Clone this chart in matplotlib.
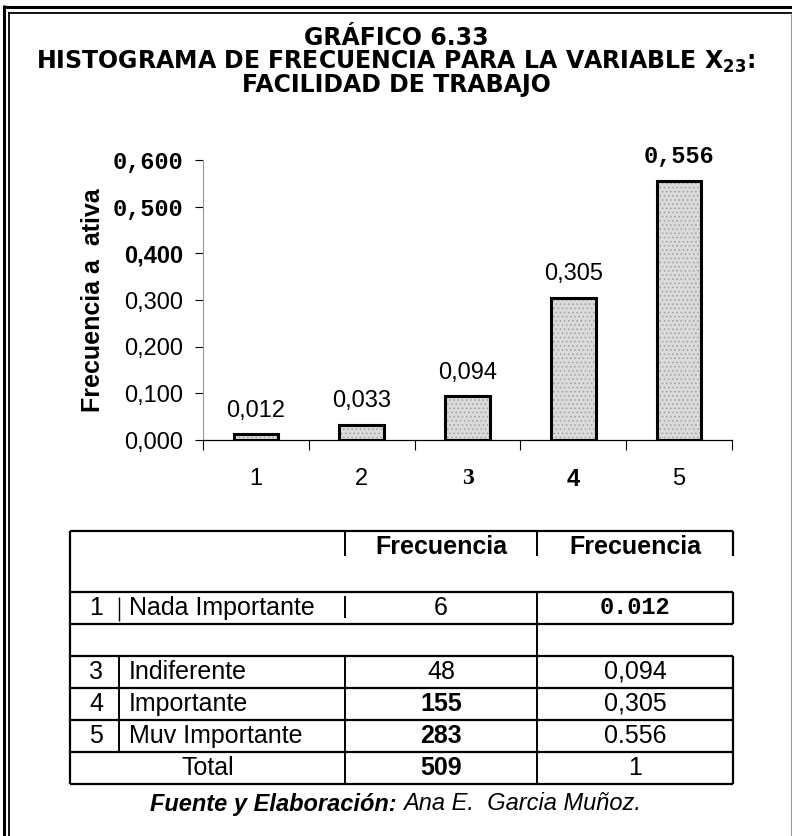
import matplotlib.pyplot as plt
import numpy as np

# frecuencias relativas de la variable X23
categorias = ["1", "2", "3", "4", "5"]
frec_relativa = [0.012, 0.033, 0.094, 0.305, 0.556]
etiquetas_valor = ["0,012", "0,033", "0,094", "0,305", "0,556"]
ticks_y = [0.0, 0.1, 0.2, 0.3, 0.4, 0.5, 0.6]
etiquetas_y = ["0,000", "0,100", "0,200", "0,300", "0,400", "0,500", "0,600"]

# tabla de frecuencias (la segunda fila quedó en blanco)
tabla_codigo = ["1", "", "3", "4", "5"]
tabla_nombre = ["Nada Importante", "", "Indiferente", "Importante", "Muv Importante"]
tabla_frec = ["6", "", "48", "155", "283"]
tabla_rel = ["0.012", "", "0,094", "0,305", "0.556"]
total_frec = "509"
total_rel = "1"

SANS = "Liberation Sans"
MONO = "Liberation Mono"
SERIF = "Liberation Serif"

W, H = 792, 836
fig = plt.figure(figsize=(W / 100, H / 100), dpi=100)

# capa de fondo en pixeles para marco, titulo y tabla
bg = fig.add_axes([0, 0, 1, 1])
bg.set_xlim(0, W)
bg.set_ylim(H, 0)
bg.axis("off")


def linea(x0, x1, y0, y1, lw=1.4, color="black"):
    bg.plot([x0, x1], [y0, y1], color=color, lw=lw, solid_capstyle="butt")


# marco doble
linea(4, 4, 5, H, lw=2.2)
linea(8.5, 8.5, 12, H, lw=1.3)
linea(3, W, 7, 7, lw=2.2)
linea(8, W, 12.5, 12.5, lw=1.3)
linea(790.5, 790.5, 13, H, lw=0.8, color="#9a9a9a")

# titulo
tit = dict(ha="center", va="center", fontsize=17, weight="bold", family="DejaVu Sans")
bg.text(396, 38, "GRÁFICO 6.33", **tit)
bg.text(396, 62, r"HISTOGRAMA DE FRECUENCIA PARA LA VARIABLE X$_\mathbf{23}$:", **tit)
bg.text(396, 85, "FACILIDAD DE TRABAJO", **tit)

# grafico de barras
ax = fig.add_axes([203 / W, 1 - 440 / H, (732 - 203) / W, (440 - 160) / H])
x = np.arange(len(categorias))
plt.rcParams["hatch.linewidth"] = 0.6
ax.bar(x, frec_relativa, width=0.42, facecolor="#dadada", edgecolor="#a0a0a0",
       linewidth=0, hatch="....", zorder=2)
ax.bar(x, frec_relativa, width=0.42, facecolor="none", edgecolor="black",
       linewidth=2.2, zorder=3)

ax.set_xlim(-0.5, 4.5)
ax.set_ylim(0, 0.6)
for s in ["top", "right"]:
    ax.spines[s].set_visible(False)
ax.spines["left"].set_color("#9a9a9a")
ax.spines["left"].set_linewidth(0.8)
ax.spines["bottom"].set_linewidth(0.9)

ax.set_yticks(ticks_y)
ax.set_yticklabels(etiquetas_y)
ax.tick_params(axis="y", length=6, width=0.8, pad=8)
estilo_y = [(SANS, "normal"), (SANS, "normal"), (SANS, "normal"), (SANS, "normal"),
            (SANS, "bold"), (MONO, "bold"), (MONO, "bold")]
for lab, (fam, peso) in zip(ax.get_yticklabels(), estilo_y):
    lab.set_fontfamily(fam)
    lab.set_fontweight(peso)
    lab.set_fontsize(17)

ax.set_xticks(np.arange(-0.5, 5, 1))
ax.set_xticklabels([])
ax.tick_params(axis="x", which="major", length=7, width=0.8)
ax.set_xticks(x, minor=True)
ax.set_xticklabels(categorias, minor=True)
ax.tick_params(axis="x", which="minor", length=0, pad=20)
estilo_x = [(SANS, "normal"), (SANS, "normal"), (SERIF, "bold"), (SANS, "bold"), (SANS, "normal")]
for lab, (fam, peso) in zip(ax.get_xticklabels(minor=True), estilo_x):
    lab.set_fontfamily(fam)
    lab.set_fontweight(peso)
    lab.set_fontsize(17)

estilo_val = [(SANS, "normal"), (SANS, "normal"), (SANS, "normal"), (SANS, "normal"), (MONO, "bold")]
for xi, v, lbl, (fam, peso) in zip(x, frec_relativa, etiquetas_valor, estilo_val):
    ax.annotate(lbl, (xi, v), xytext=(0, 17), textcoords="offset points",
                ha="center", va="center", fontsize=17, family=fam, weight=peso)

fig.text(93 / W, 1 - 300 / H, "Frecuencia a  ativa", rotation=90, ha="center",
         va="center", fontsize=18, weight="bold", family=SANS)

# tabla
tx0, tx1 = 70, 733
c1, c2, c3 = 119, 345, 537
filas = [531, 592, 624, 656, 688, 720, 752, 784]
for y in filas:
    linea(tx0, tx1, y, y, lw=1.6)
linea(tx0, tx0, 531, 784, lw=1.6)
linea(tx1, tx1, 531, 556, lw=1.6)
linea(tx1, tx1, 592, 624, lw=1.6)
linea(tx1, tx1, 656, 784, lw=1.6)
linea(c1, c1, 597, 621, lw=1.0)
linea(c1, c1, 656, 752, lw=1.4)
linea(c2, c2, 531, 556, lw=1.4)
linea(c2, c2, 596, 618, lw=1.4)
linea(c2, c2, 656, 784, lw=1.4)
linea(c3, c3, 531, 556, lw=1.4)
linea(c3, c3, 592, 784, lw=1.4)

celda = dict(va="center", fontsize=18, family=SANS)
bg.text((c2 + c3) / 2, 547, "Frecuencia", ha="center", weight="bold", **celda)
bg.text((c3 + tx1) / 2, 547, "Frecuencia", ha="center", weight="bold", **celda)

estilo_frec = ["normal", "normal", "normal", "bold", "bold"]
for i, (cod, nom, fr, rel) in enumerate(zip(tabla_codigo, tabla_nombre, tabla_frec, tabla_rel)):
    yc = (filas[i + 1] + filas[i + 2]) / 2
    bg.text(96, yc, cod, ha="center", **celda)
    bg.text(129, yc, nom, ha="left", **celda)
    bg.text((c2 + c3) / 2, yc, fr, ha="center", weight=estilo_frec[i], **celda)
    if rel == "0.012":
        bg.text((c3 + tx1) / 2, yc, rel, ha="center", va="center", fontsize=17,
                family=MONO, weight="bold")
    else:
        bg.text((c3 + tx1) / 2, yc, rel, ha="center", **celda)

yt = (filas[-2] + filas[-1]) / 2
bg.text((tx0 + c2) / 2, yt, "Total", ha="center", **celda)
bg.text((c2 + c3) / 2, yt, total_frec, ha="center", weight="bold", **celda)
bg.text((c3 + tx1) / 2, yt, total_rel, ha="center", **celda)

# fuente
t1 = bg.text(150, 804, "Fuente y Elaboración: ", ha="left", va="center", fontsize=17,
             weight="bold", style="italic", family=SANS)
t2 = bg.annotate("Ana E.  Garcia Muñoz.", xy=(1, 0), xycoords=t1, ha="left", va="bottom",
                 fontsize=17, style="italic", family=SANS)
fig.canvas.draw()
r = fig.canvas.get_renderer()
b1 = t1.get_window_extent(r)
b2 = t2.get_window_extent(r)
ancho = b2.x1 - b1.x0
t1.set_x(396 - ancho / 2)

fig.savefig("out.png", dpi=100)
